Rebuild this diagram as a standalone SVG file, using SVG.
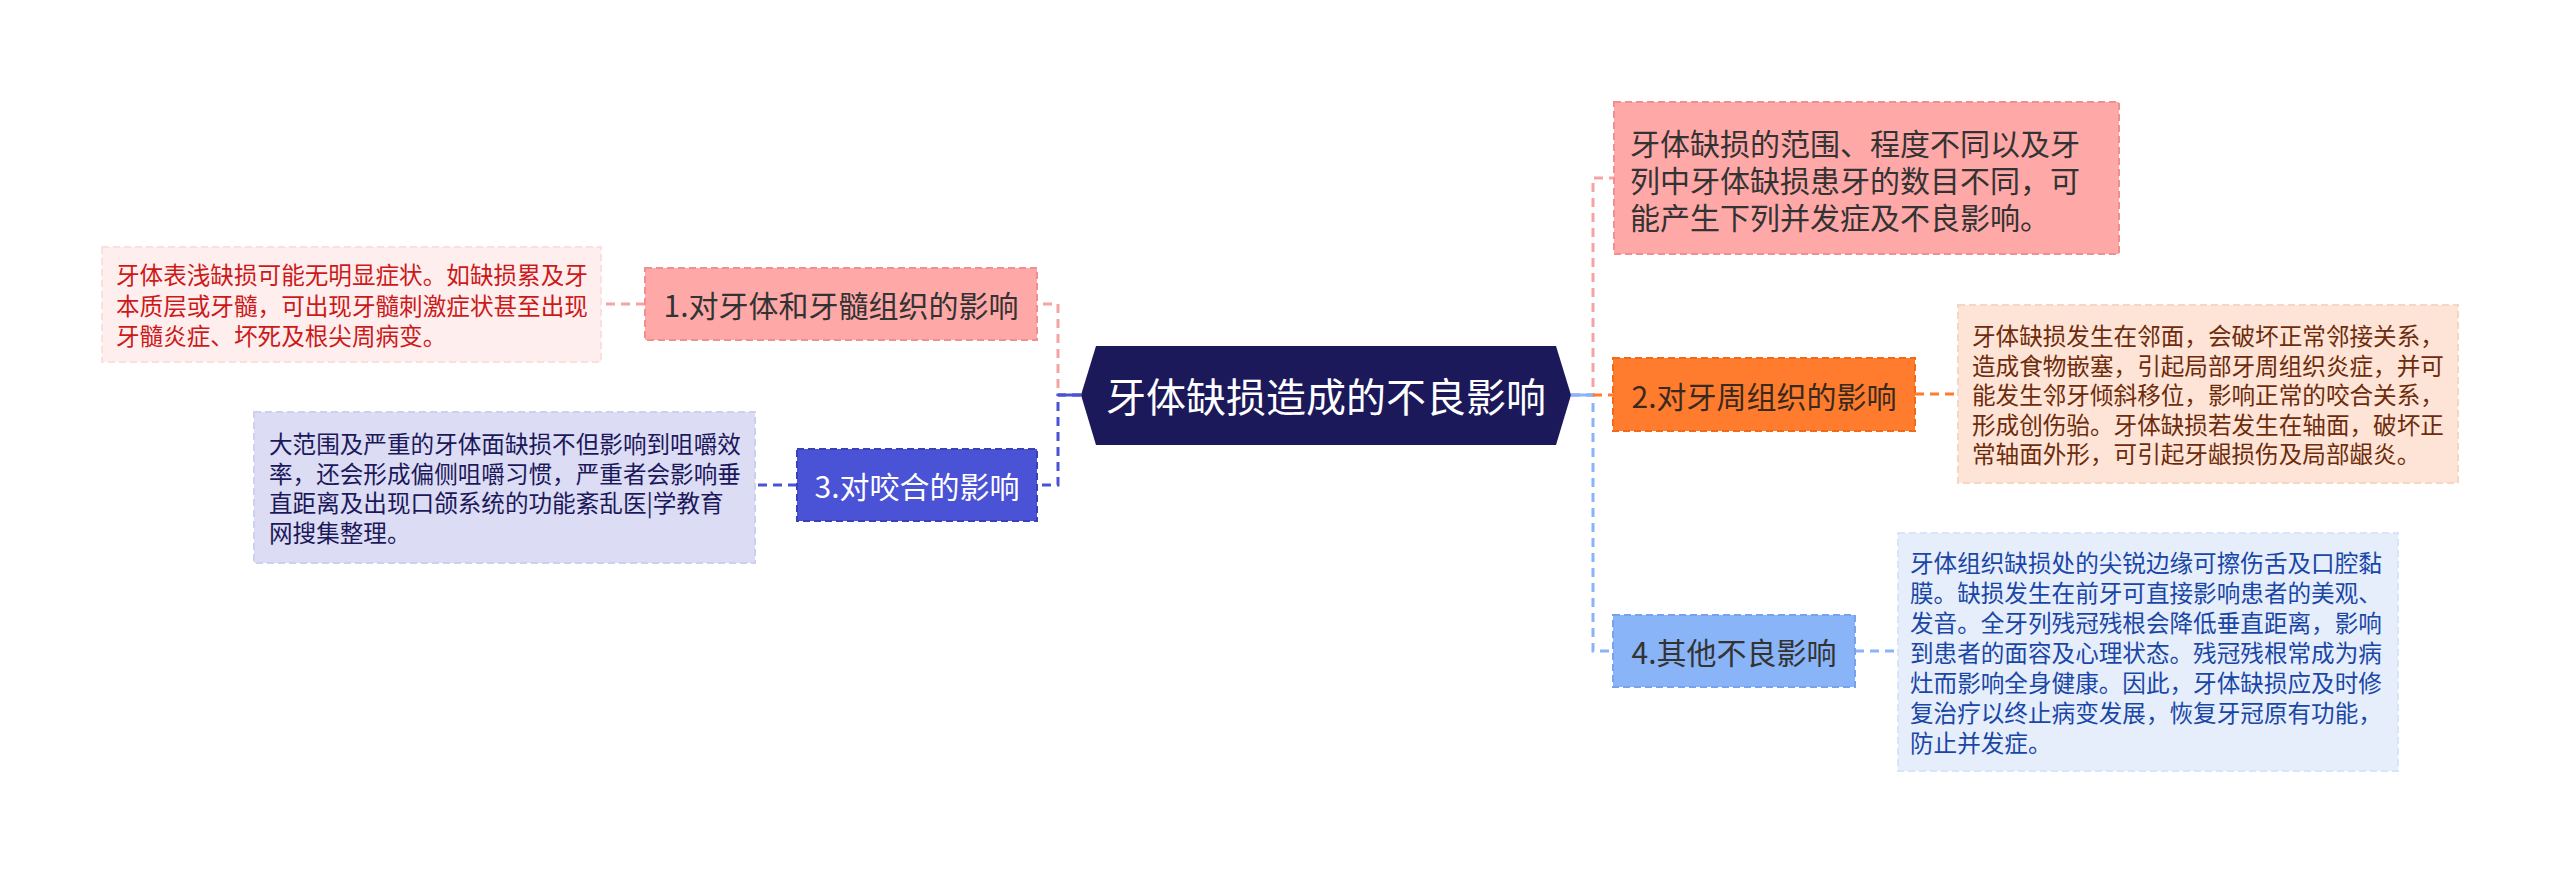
<svg xmlns="http://www.w3.org/2000/svg" width="2560" height="873" viewBox="0 0 2560 873">
<style>
text{font-family:"Microsoft YaHei","Noto Sans CJK SC","Noto Sans",sans-serif;dominant-baseline:central}
.conn{fill:none;stroke-width:3;stroke-dasharray:9 6}
.box{stroke-width:2;stroke-dasharray:7 4}
.br{font-size:30px}
.lf{font-size:23.6px}
</style>
<rect width="2560" height="873" fill="#ffffff"/>
<g id="connectors">
  <path class="conn" d="M1081,395 H1058 V304 H1037" stroke="#f5a3a3"/>
  <path class="conn" d="M1081,395 H1058 V485 H1037" stroke="#4a52d6"/>
  <path d="M1058,395 H1081" stroke="#4a52d6" stroke-width="3"/>
  <path class="conn" d="M1571,395 H1593 V178 H1614" stroke="#f5a3a3"/>
  <path class="conn" d="M1571,395 H1593 V651 H1613" stroke="#8ab4f8"/>
  <path class="conn" d="M1593,395 H1613" stroke="#ff7c2e"/>
  <path d="M1571,395 H1593" stroke="#8ab4f8" stroke-width="3"/>
  <path class="conn" d="M645,304 H601" stroke="#f5a3a3"/>
  <path class="conn" d="M797,485 H755" stroke="#4a52d6"/>
  <path class="conn" d="M1915,394 H1958" stroke="#ff7c2e"/>
  <path class="conn" d="M1855,651 H1898" stroke="#8ab4f8"/>
</g>
<g id="central">
  <polygon points="1081,395 1096,346 1556,346 1571,395 1556,445 1096,445" fill="#1c195a"/>
  <text x="1326" y="395" font-size="40" fill="#ffffff" text-anchor="middle">牙体缺损造成的不良影响</text>
</g>
<g id="node1">
  <rect class="box" x="645" y="268" width="392" height="72" fill="#ffa8a8" stroke="#f08f8f"/>
  <text class="br" x="841" y="304" fill="#333333" text-anchor="middle">1.对牙体和牙髓组织的影响</text>
</g>
<g id="leaf1">
  <rect class="box" x="102" y="247" width="499" height="115" fill="#ffeeee" stroke="#fbe0e0"/>
  <g class="lf" fill="#cc1a1a">
    <text x="116" y="274">牙体表浅缺损可能无明显症状。如缺损累及牙</text>
    <text x="116" y="304.5">本质层或牙髓，可出现牙髓刺激症状甚至出现</text>
    <text x="116" y="335">牙髓炎症、坏死及根尖周病变。</text>
  </g>
</g>
<g id="node3">
  <rect class="box" x="797" y="449" width="240" height="72" fill="#4a52d6" stroke="#3a40b8"/>
  <text class="br" x="917" y="485" fill="#ffffff" text-anchor="middle">3.对咬合的影响</text>
</g>
<g id="leaf3">
  <rect class="box" x="254" y="412" width="501" height="151" fill="#dcdcf5" stroke="#cfcfee"/>
  <g class="lf" fill="#1c195a">
    <text x="269" y="443">大范围及严重的牙体面缺损不但影响到咀嚼效</text>
    <text x="269" y="472.5">率，还会形成偏侧咀嚼习惯，严重者会影响垂</text>
    <text x="269" y="502">直距离及出现口颌系统的功能紊乱医|学教育</text>
    <text x="269" y="531.5">网搜集整理。</text>
  </g>
</g>
<g id="node0">
  <rect class="box" x="1614" y="102" width="505" height="152" fill="#ffa8a8" stroke="#f08f8f"/>
  <g class="br" fill="#333333">
    <text x="1630" y="142">牙体缺损的范围、程度不同以及牙</text>
    <text x="1630" y="179">列中牙体缺损患牙的数目不同，可</text>
    <text x="1630" y="216">能产生下列并发症及不良影响。</text>
  </g>
</g>
<g id="node2">
  <rect class="box" x="1613" y="358" width="302" height="73" fill="#ff7c2e" stroke="#f06a18"/>
  <text class="br" x="1764" y="394.5" fill="#3a2a1e" text-anchor="middle">2.对牙周组织的影响</text>
</g>
<g id="leaf2">
  <rect class="box" x="1958" y="305" width="500" height="178" fill="#fde4d6" stroke="#f8d6c4"/>
  <g class="lf" fill="#6e2c0c">
    <text x="1972" y="335">牙体缺损发生在邻面，会破坏正常邻接关系，</text>
    <text x="1972" y="364.5">造成食物嵌塞，引起局部牙周组织炎症，并可</text>
    <text x="1972" y="394">能发生邻牙倾斜移位，影响正常的咬合关系，</text>
    <text x="1972" y="423.5">形成创伤骀。牙体缺损若发生在轴面，破坏正</text>
    <text x="1972" y="453">常轴面外形，可引起牙龈损伤及局部龈炎。</text>
  </g>
</g>
<g id="node4">
  <rect class="box" x="1613" y="615" width="242" height="72" fill="#8ab4f8" stroke="#77a3ee"/>
  <text class="br" x="1734" y="651" fill="#333333" text-anchor="middle">4.其他不良影响</text>
</g>
<g id="leaf4">
  <rect class="box" x="1898" y="533" width="500" height="238" fill="#e6eefc" stroke="#d8e4fa"/>
  <g class="lf" fill="#1a47a6">
    <text x="1910" y="562">牙体组织缺损处的尖锐边缘可擦伤舌及口腔黏</text>
    <text x="1910" y="592">膜。缺损发生在前牙可直接影响患者的美观、</text>
    <text x="1910" y="622">发音。全牙列残冠残根会降低垂直距离，影响</text>
    <text x="1910" y="652">到患者的面容及心理状态。残冠残根常成为病</text>
    <text x="1910" y="682">灶而影响全身健康。因此，牙体缺损应及时修</text>
    <text x="1910" y="712">复治疗以终止病变发展，恢复牙冠原有功能，</text>
    <text x="1910" y="742">防止并发症。</text>
  </g>
</g>
</svg>
